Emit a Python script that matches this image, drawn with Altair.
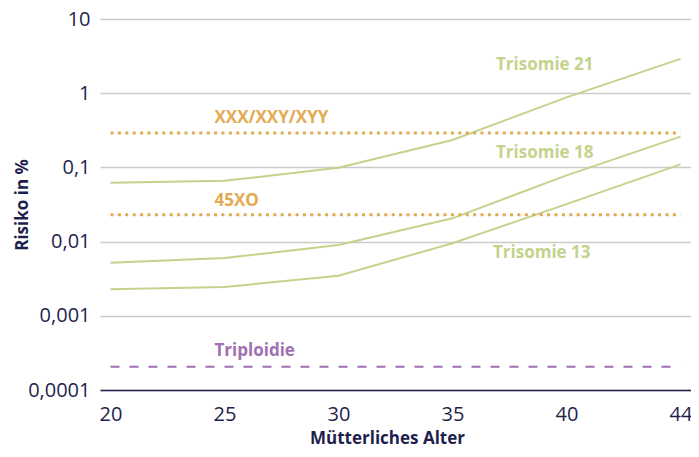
import altair as alt
import pandas as pd

ages = ["20", "25", "30", "35", "40", "44"]
trisomie21 = [0.062, 0.066, 0.099, 0.234, 0.88, 2.9]
trisomie18 = [0.0052, 0.0060, 0.0090, 0.0206, 0.078, 0.26]
trisomie13 = [0.00228, 0.00244, 0.00347, 0.0095, 0.032, 0.110]

const_names = ["XXX/XXY/XYY", "45XO", "Triploidie"]
const_values = [0.29, 0.023, 0.000206]

y_ticks = [0.0001, 0.001, 0.01, 0.1, 1, 10]
y_tick_labels = ["0,0001", "0,001", "0,01", "0,1", "1", "10"]

GREEN = "#c3d38c"
ORANGE = "#e4aa52"
PURPLE = "#a070b0"
NAVY = "#1f1f4e"
FONT = "Open Sans"

rows = []
for name, vals in [("Trisomie 21", trisomie21), ("Trisomie 18", trisomie18), ("Trisomie 13", trisomie13)]:
    for a, v in zip(ages, vals):
        rows.append({"age": a, "risk": v, "series": name})
tri_df = pd.DataFrame(rows)

const_rows = []
for n, v in zip(const_names, const_values):
    for a in [ages[0], ages[-1]]:
        const_rows.append({"age": a, "risk": v, "series": n})
const_df = pd.DataFrame(const_rows)

label_expr = "{" + ",".join(f"'{t}':'{l}'" for t, l in zip(y_ticks, y_tick_labels)) + "}[toString(datum.value)]"

x_enc = alt.X(
    "age:O",
    sort=ages,
    scale=alt.Scale(type="point", padding=0.092),
    axis=alt.Axis(
        title="Mütterliches Alter",
        labelAngle=0,
        labelFont=FONT,
        labelFontSize=20,
        labelColor=NAVY,
        labelPadding=14,
        ticks=False,
        grid=False,
        domain=True,
        domainColor=NAVY,
        domainWidth=1.5,
        titleFont=FONT,
        titleFontSize=17,
        titleFontWeight="bold",
        titleColor=NAVY,
        titleX=287,
        titleY=53,
        titleBaseline="alphabetic",
    ),
)
y_scale = alt.Scale(type="log", domain=[0.0001, 10], nice=False)
y_enc = alt.Y(
    "risk:Q",
    scale=y_scale,
    axis=alt.Axis(
        title="Risiko in %",
        values=y_ticks,
        labelExpr=label_expr,
        labelFont=FONT,
        labelFontSize=20,
        labelColor=NAVY,
        labelPadding=10,
        ticks=False,
        domain=False,
        grid=True,
        gridColor="#cacaca",
        gridWidth=1.5,
        titleFont=FONT,
        titleFontSize=17,
        titleFontWeight="bold",
        titleColor=NAVY,
        titleX=-78,
        titleY=185.5,
        titleBaseline="middle",
        titleAngle=-90,
    ),
)

tri_lines = alt.Chart(tri_df).mark_line(color=GREEN, strokeWidth=2).encode(
    x=x_enc, y=y_enc, detail="series:N"
)

xxx = alt.Chart(const_df[const_df.series == "XXX/XXY/XYY"]).mark_line(
    color=ORANGE, strokeWidth=3, strokeDash=[3, 4.4], strokeCap="butt"
).encode(x=alt.X("age:O", sort=ages), y=alt.Y("risk:Q"))
xo = alt.Chart(const_df[const_df.series == "45XO"]).mark_line(
    color=ORANGE, strokeWidth=3, strokeDash=[3, 4.4], strokeCap="butt"
).encode(x=alt.X("age:O", sort=ages), y=alt.Y("risk:Q"))
trip = alt.Chart(const_df[const_df.series == "Triploidie"]).mark_line(
    color=PURPLE, strokeWidth=2, strokeDash=[9, 10]
).encode(x=alt.X("age:O", sort=ages), y=alt.Y("risk:Q"))

def label(df, text, color, dx, dy, align):
    return alt.Chart(df).mark_text(
        text=text, color=color, font=FONT, fontSize=17, fontWeight="bold",
        align=align, baseline="middle", dx=dx, dy=dy
    ).encode(x=alt.X("age:O", sort=ages), y=alt.Y("risk:Q"))

end21 = tri_df[(tri_df.series == "Trisomie 21") & (tri_df.age == "44")]
end18 = tri_df[(tri_df.series == "Trisomie 18") & (tri_df.age == "44")]
pt13 = tri_df[(tri_df.series == "Trisomie 13") & (tri_df.age == "40")]
xxx_start = const_df[(const_df.series == "XXX/XXY/XYY") & (const_df.age == "20")].assign(age="25")
xo_start = const_df[(const_df.series == "45XO") & (const_df.age == "20")].assign(age="25")
trip_start = const_df[(const_df.series == "Triploidie") & (const_df.age == "20")].assign(age="25")

labels = [
    label(end21, "Trisomie 21", GREEN, -87, 6, "right"),
    label(end18, "Trisomie 18", GREEN, -87, 16, "right"),
    label(pt13, "Trisomie 13", GREEN, 24, 49, "right"),
    label(xxx_start, "XXX/XXY/XYY", ORANGE, -10, -15, "left"),
    label(xo_start, "45XO", ORANGE, -10, -14, "left"),
    label(trip_start, "Triploidie", PURPLE, -10, -16, "left"),
]

chart = alt.layer(tri_lines, xxx, xo, trip, *labels).properties(
    width=591,
    height=371,
    autosize=alt.AutoSizeParams(type="none"),
    padding={"left": 92, "top": 11, "right": 0, "bottom": 59},
).configure_view(stroke=None)

chart.save("out.html", embed_options={"renderer": "svg", "actions": False})
